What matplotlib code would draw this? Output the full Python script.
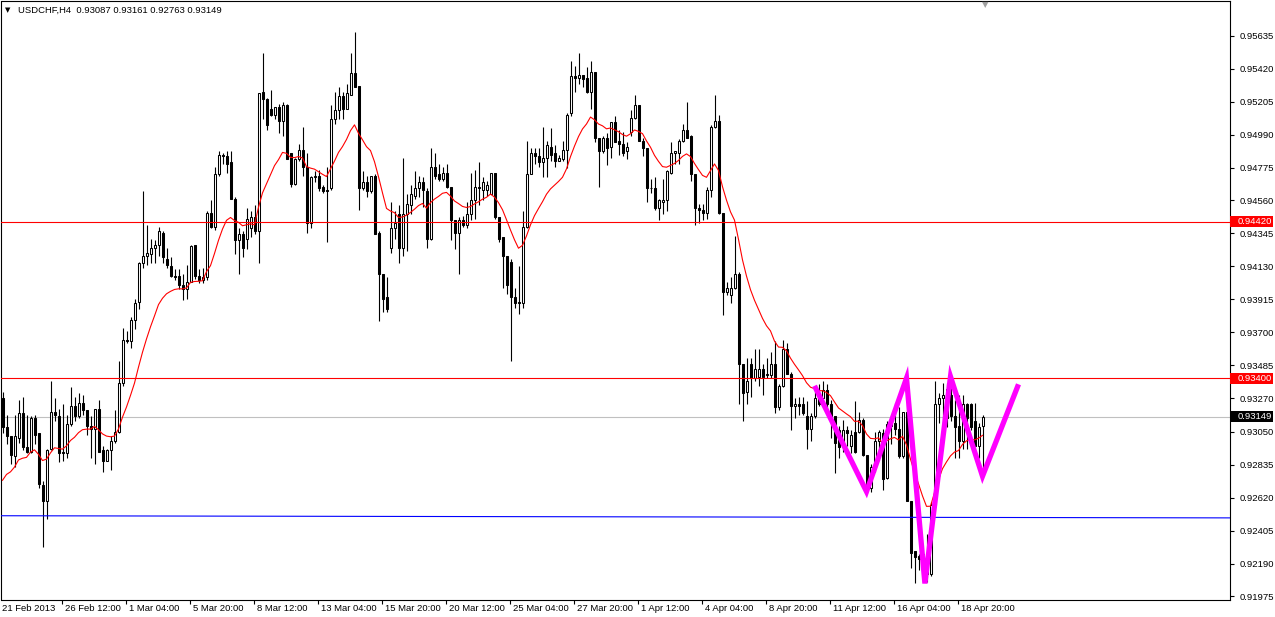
import numpy as np
import pandas as pd
import matplotlib
matplotlib.use("Agg")
import matplotlib.pyplot as plt
from matplotlib.patches import Rectangle
from matplotlib.transforms import blended_transform_factory

plt.rcParams['font.family'] = ['Liberation Sans', 'DejaVu Sans']

# H4 candles, prices in pips (0.0001)
opens = [9327, 9308, 9302, 9289, 9301, 9317, 9295, 9292, 9314, 9304,
         9270, 9260, 9294, 9318, 9315, 9292, 9291, 9310, 9322, 9315,
         9324, 9319, 9309, 9307, 9320, 9293, 9286, 9293, 9299, 9305,
         9337, 9365, 9364, 9378, 9390, 9415, 9420, 9421, 9425, 9427,
         9435, 9418, 9413, 9407, 9407, 9401, 9398, 9403, 9427, 9407,
         9404, 9406, 9448, 9439, 9473, 9486, 9485, 9481, 9457, 9430,
         9434, 9431, 9438, 9445, 9436, 9527, 9522, 9516, 9512, 9517,
         9508, 9518, 9487, 9467, 9483, 9489, 9478, 9441, 9471, 9472,
         9465, 9463, 9464, 9509, 9515, 9524, 9516, 9525, 9539, 9531,
         9464, 9468, 9462, 9472, 9435, 9408, 9393, 9425, 9438, 9447,
         9425, 9447, 9453, 9459, 9464, 9468, 9462, 9431, 9478, 9473,
         9470, 9474, 9465, 9443, 9435, 9443, 9440, 9447, 9456, 9465,
         9463, 9463, 9460, 9474, 9445, 9432, 9420, 9416, 9393, 9390,
         9389, 9439, 9473, 9487, 9485, 9481, 9484, 9491, 9487, 9482,
         9483, 9489, 9513, 9537, 9536, 9538, 9536, 9527, 9540, 9497,
         9488, 9497, 9491, 9507, 9495, 9493, 9488, 9501, 9510, 9518,
         9495, 9490, 9464, 9464, 9451, 9455, 9456, 9474, 9487, 9487,
         9495, 9502, 9498, 9473, 9451, 9450, 9448, 9463, 9504, 9508,
         9448, 9396, 9394, 9399, 9408, 9349, 9331, 9349, 9340, 9341,
         9346, 9342, 9342, 9349, 9321, 9335, 9359, 9343, 9322, 9323,
         9323, 9315, 9307, 9315, 9327, 9327, 9332, 9323, 9315, 9306,
         9295, 9306, 9296, 9305, 9305, 9313, 9290, 9268, 9282, 9299,
         9304, 9275, 9311, 9311, 9307, 9289, 9318, 9260, 9227, 9224,
         9225, 9222, 9212, 9257, 9323, 9327, 9333, 9329, 9315, 9309,
         9299, 9323, 9323, 9312, 9296, 9308.7]
highs = [9331, 9316, 9302, 9316, 9326, 9328, 9316, 9315, 9316, 9304,
         9273, 9294, 9338, 9327, 9320, 9323, 9316, 9334, 9328, 9330,
         9329, 9319, 9315, 9320, 9326, 9296, 9294, 9302, 9319, 9351,
         9373, 9371, 9380, 9392, 9416, 9462, 9440, 9431, 9430, 9439,
         9436, 9425, 9419, 9411, 9411, 9408, 9414, 9427, 9427, 9411,
         9412, 9449, 9456, 9478, 9488, 9487, 9488, 9488, 9458, 9438,
         9436, 9451, 9449, 9453, 9526, 9552, 9523, 9528, 9517, 9519,
         9520, 9519, 9487, 9484, 9493, 9504, 9487, 9472, 9475, 9476,
         9466, 9478, 9518, 9527, 9530, 9527, 9532, 9552, 9566, 9531,
         9475, 9472, 9472, 9473, 9436, 9408, 9406, 9455, 9449, 9453,
         9484, 9460, 9466, 9475, 9472, 9471, 9464, 9490, 9487, 9480,
         9478, 9480, 9465, 9443, 9445, 9446, 9455, 9474, 9476, 9481,
         9471, 9469, 9474, 9474, 9445, 9432, 9420, 9418, 9399, 9413,
         9449, 9495, 9490, 9490, 9490, 9504, 9495, 9503, 9492, 9486,
         9495, 9513, 9547, 9544, 9552, 9538, 9543, 9547, 9540, 9497,
         9498, 9500, 9507, 9511, 9502, 9501, 9494, 9515, 9525, 9518,
         9497, 9490, 9470, 9471, 9457, 9470, 9476, 9494, 9488, 9496,
         9506, 9520, 9499, 9473, 9454, 9454, 9465, 9505, 9525, 9512,
         9448, 9403, 9406, 9433, 9409, 9349, 9353, 9353, 9359, 9359,
         9349, 9353, 9357, 9364, 9336, 9365, 9363, 9344, 9327, 9328,
         9328, 9325, 9317, 9335, 9336, 9338, 9336, 9326, 9315, 9309,
         9313, 9309, 9306, 9325, 9318, 9314, 9290, 9284, 9305, 9306,
         9307, 9312, 9315, 9324, 9321, 9318, 9338, 9260, 9227, 9225,
         9226, 9238, 9259, 9338, 9330, 9337, 9337, 9340, 9326, 9329,
         9329, 9324, 9324, 9324, 9311, 9316.1]
lows = [9304, 9297, 9284, 9282, 9298, 9293, 9291, 9291, 9297, 9268,
        9230, 9248, 9293, 9312, 9285, 9286, 9288, 9309, 9312, 9314,
        9316, 9303, 9288, 9284, 9292, 9279, 9286, 9280, 9298, 9304,
        9335, 9363, 9360, 9372, 9385, 9412, 9414, 9415, 9415, 9420,
        9415, 9412, 9406, 9404, 9398, 9391, 9392, 9403, 9405, 9402,
        9402, 9404, 9438, 9437, 9472, 9480, 9474, 9457, 9421, 9408,
        9419, 9424, 9432, 9434, 9415, 9509, 9502, 9511, 9509, 9500,
        9498, 9483, 9465, 9466, 9482, 9472, 9435, 9438, 9468, 9462,
        9461, 9429, 9463, 9506, 9509, 9509, 9516, 9525, 9530, 9450,
        9463, 9458, 9461, 9434, 9377, 9383, 9383, 9422, 9431, 9415,
        9420, 9423, 9447, 9457, 9458, 9452, 9425, 9430, 9470, 9469,
        9469, 9464, 9430, 9424, 9408, 9439, 9438, 9443, 9444, 9453,
        9456, 9459, 9460, 9444, 9429, 9399, 9395, 9351, 9386, 9382,
        9386, 9438, 9473, 9480, 9478, 9471, 9471, 9482, 9478, 9482,
        9482, 9477, 9511, 9527, 9532, 9530, 9526, 9516, 9494, 9465,
        9487, 9479, 9484, 9494, 9486, 9485, 9483, 9498, 9509, 9495,
        9485, 9455, 9461, 9450, 9443, 9447, 9449, 9473, 9480, 9480,
        9494, 9497, 9469, 9440, 9441, 9443, 9444, 9458, 9503, 9447,
        9381, 9394, 9389, 9398, 9323, 9312, 9323, 9328, 9338, 9335,
        9329, 9340, 9340, 9317, 9319, 9334, 9343, 9306, 9314, 9316,
        9316, 9294, 9299, 9314, 9322, 9325, 9318, 9301, 9278, 9288,
        9292, 9296, 9291, 9291, 9304, 9289, 9265, 9266, 9279, 9289,
        9267, 9274, 9297, 9303, 9288, 9288, 9260, 9216, 9206, 9215,
        9208, 9207, 9211, 9257, 9311, 9309, 9308, 9312, 9288, 9288,
        9294, 9294, 9306, 9295, 9288, 9276.3]
closes = [9308, 9302, 9290, 9302, 9317, 9295, 9292, 9314, 9303, 9271,
          9260, 9293, 9318, 9316, 9291, 9291, 9310, 9322, 9315, 9324,
          9319, 9309, 9307, 9320, 9292, 9286, 9293, 9299, 9305, 9337,
          9365, 9364, 9378, 9389, 9415, 9420, 9422, 9425, 9427, 9436,
          9419, 9414, 9407, 9406, 9401, 9398, 9403, 9426, 9407, 9404,
          9406, 9448, 9439, 9473, 9486, 9485, 9480, 9457, 9430, 9434,
          9425, 9444, 9445, 9436, 9526, 9522, 9505, 9512, 9517, 9508,
          9518, 9483, 9467, 9483, 9489, 9478, 9441, 9471, 9472, 9464,
          9462, 9462, 9509, 9515, 9524, 9516, 9526, 9539, 9530, 9464,
          9468, 9462, 9472, 9434, 9408, 9392, 9385, 9438, 9441, 9425,
          9447, 9454, 9460, 9464, 9468, 9463, 9431, 9478, 9472, 9470,
          9474, 9465, 9443, 9435, 9443, 9440, 9447, 9456, 9465, 9464,
          9468, 9466, 9474, 9445, 9431, 9420, 9401, 9393, 9389, 9389,
          9439, 9473, 9487, 9485, 9481, 9484, 9492, 9486, 9482, 9484,
          9489, 9512, 9537, 9536, 9538, 9535, 9527, 9540, 9497, 9488,
          9497, 9490, 9507, 9494, 9493, 9487, 9491, 9510, 9518, 9495,
          9490, 9464, 9464, 9451, 9456, 9456, 9475, 9487, 9488, 9495,
          9502, 9497, 9473, 9451, 9450, 9448, 9463, 9504, 9508, 9448,
          9396, 9399, 9399, 9408, 9349, 9330, 9338, 9340, 9346, 9346,
          9341, 9343, 9349, 9321, 9335, 9359, 9343, 9322, 9323, 9322,
          9317, 9307, 9315, 9327, 9323, 9332, 9323, 9315, 9298, 9295,
          9306, 9304, 9303, 9292, 9313, 9290, 9268, 9282, 9299, 9305,
          9274, 9310, 9309, 9307, 9289, 9318, 9260, 9226, 9223, 9222,
          9212, 9212, 9257, 9323, 9327, 9329, 9314, 9315, 9308, 9299,
          9323, 9314, 9308, 9296, 9308, 9314.9]

date_labels = ["21 Feb 2013", "26 Feb 12:00", "1 Mar 04:00", "5 Mar 20:00",
               "8 Mar 12:00", "13 Mar 04:00", "15 Mar 20:00", "20 Mar 12:00",
               "25 Mar 04:00", "27 Mar 20:00", "1 Apr 12:00", "4 Apr 04:00",
               "8 Apr 20:00", "11 Apr 12:00", "16 Apr 04:00", "18 Apr 20:00"]
bars_per_label = 16
price_ticks = [0.95635, 0.95420, 0.95205, 0.94990, 0.94775, 0.94560, 0.94345,
               0.94130, 0.93915, 0.93700, 0.93485, 0.93270, 0.93050, 0.92835,
               0.92620, 0.92405, 0.92190, 0.91975]

resistance_levels = [0.94420, 0.93400]
bid = 0.93149
support_line = [0.92502, 0.92488]   # nearly flat trendline, left -> right

zigzag_bars = [203, 216, 226, 230.6, 237, 245, 254]
zigzag_pips = [9335, 9266, 9340, 9206, 9341, 9276, 9336]

ma_seed = 9268
ma_span = 14

FS = 6.8
PIP = 1e-4
o = np.array(opens) * PIP
h = np.array(highs) * PIP
l = np.array(lows) * PIP
c = np.array(closes) * PIP
x = np.arange(len(c))

ma = pd.Series([ma_seed] + list(closes)).ewm(span=ma_span, adjust=False).mean().to_numpy()[1:] * PIP

W, H = 1275, 617
fig = plt.figure(figsize=(W / 100, H / 100), dpi=100)
ax = fig.add_axes([1.5 / W, 17 / H, 1228 / W, 599 / H])
ax.set_xlim(-0.25, 306.75)
ax.set_ylim(0.91952, 0.95862)

# candles
ax.vlines(x, l, h, color='black', lw=0.8, zorder=2)
up = c >= o
bottom = np.minimum(o, c)
height = np.maximum(np.abs(c - o), 0.000015)
ax.bar(x[up], height[up], bottom=bottom[up], width=0.5, facecolor='white',
       edgecolor='black', lw=0.75, zorder=3)
ax.bar(x[~up], height[~up], bottom=bottom[~up], width=0.5, facecolor='black',
       edgecolor='black', lw=0.75, zorder=3)

ax.axhline(bid, color='#C0C0C0', lw=0.8, zorder=1)
ax.plot(x, ma, color='#FF0000', lw=0.8, zorder=4)
for lev in resistance_levels:
    ax.axhline(lev, color='#FF0000', lw=0.8, zorder=5)
ax.plot(ax.get_xlim(), support_line, color='#0000FF', lw=0.8, zorder=5)

ax.plot(zigzag_bars, np.array(zigzag_pips) * PIP, color='#FF00FF', lw=3.8,
        zorder=6, solid_joinstyle='miter', solid_capstyle='butt')

# axes styling
for sp in ax.spines.values():
    sp.set_linewidth(0.8)
    sp.set_color('black')
ax.yaxis.tick_right()
ax.set_yticks(price_ticks)
ax.set_yticklabels([f"{p:.5f}" for p in price_ticks])
ax.tick_params(axis='y', direction='out', length=3, width=0.8, pad=4, labelsize=FS)

tick_pos = [bars_per_label * k - 1.2 for k in range(len(date_labels))]
ax.set_xticks(tick_pos[1:])
ax.set_xticklabels([])
ax.tick_params(axis='x', direction='out', length=3, width=0.8)
xt = ax.get_xaxis_transform()
for k, lab in enumerate(date_labels):
    ax.text(max(bars_per_label * k - 0.3, 0.0), -0.006, lab, transform=xt,
            ha='left', va='top', fontsize=FS, clip_on=False)

# price boxes on the right scale
bt = blended_transform_factory(ax.transAxes, ax.transData)
box_h = 11 * (0.95862 - 0.91952) / 599
for val, col in [(resistance_levels[0], '#FF0000'), (resistance_levels[1], '#FF0000'),
                 (bid, '#000000')]:
    ax.add_patch(Rectangle((1.0 + 1 / 1228, val - box_h / 2), 43 / 1228, box_h,
                           transform=bt, facecolor=col, edgecolor='none',
                           clip_on=False, zorder=10))
    ax.text(1.0 + 8 / 1228, val, f"{val:.5f}", transform=bt, color='white',
            fontsize=FS, va='center', ha='left', clip_on=False, zorder=11)

fig.text(5 / W, 1 - 10 / H, "\u25BC", fontsize=5, va='center', ha='left',
         family=['DejaVu Sans'])
fig.text(18 / W, 1 - 10 / H, "USDCHF,H4  0.93087 0.93161 0.92763 0.93149",
         fontsize=FS, va='center', ha='left')
fig.text(985 / W, 1 - 5 / H, "\u25BC", fontsize=6, color='#A0A0A0',
         va='center', ha='center', family=['DejaVu Sans'])

fig.savefig("out.png", dpi=100)
